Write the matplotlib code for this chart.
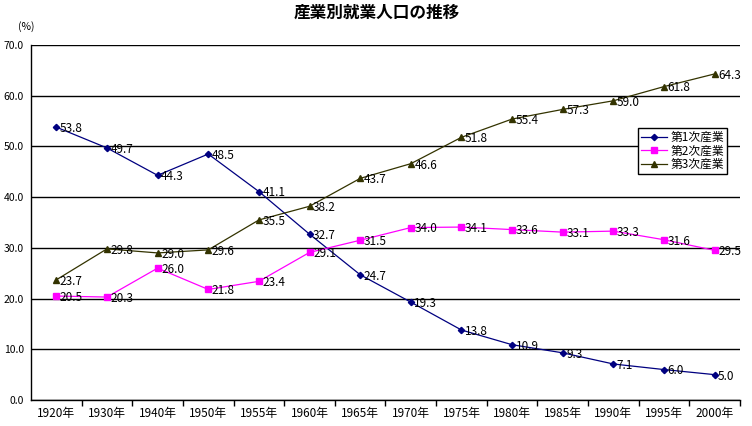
import matplotlib
matplotlib.use("Agg")
import matplotlib.pyplot as plt
from matplotlib.lines import Line2D

plt.rcParams['font.family'] = ['Noto Sans CJK JP', 'DejaVu Sans']

years = ["1920年", "1930年", "1940年", "1950年", "1955年", "1960年", "1965年",
         "1970年", "1975年", "1980年", "1985年", "1990年", "1995年", "2000年"]
primary = [53.8, 49.7, 44.3, 48.5, 41.1, 32.7, 24.7, 19.3, 13.8, 10.9, 9.3, 7.1, 6.0, 5.0]
secondary = [20.5, 20.3, 26.0, 21.8, 23.4, 29.1, 31.5, 34.0, 34.1, 33.6, 33.1, 33.3, 31.6, 29.5]
tertiary = [23.7, 29.8, 29.0, 29.6, 35.5, 38.2, 43.7, 46.6, 51.8, 55.4, 57.3, 59.0, 61.8, 64.3]
series_names = ["第1次産業", "第2次産業", "第3次産業"]
title = "産業別就業人口の推移"
yticks = [0, 10, 20, 30, 40, 50, 60, 70]

W, H = 752, 426
fig = plt.figure(figsize=(W / 100, H / 100), dpi=100)
ax = fig.add_axes([31 / W, (H - 400) / H, 709 / W, 355 / H])

x = list(range(len(years)))
styles = [
    (primary, "#000080", "D", 3.2),
    (secondary, "#FF00FF", "s", 4.3),
    (tertiary, "#333300", "^", 4.6),
]
handles = []
for (vals, col, mk, ms), name in zip(styles, series_names):
    ax.plot(x, vals, color=col, lw=0.9, marker=mk, ms=ms, mec=col, mfc=col, zorder=3)
    for xi, v in zip(x, vals):
        ax.annotate(f"{v:.1f}", (xi, v), xytext=(2.5, -1), textcoords="offset points",
                    ha="left", va="center", fontsize=8.5, color="black", zorder=4)
    handles.append(Line2D([], [], color=col, lw=0.9, marker=mk, ms=ms, mec=col, mfc=col))

ax.set_xlim(-0.5, len(years) - 0.5)
ax.set_ylim(0, 70)
ax.set_yticks(yticks)
ax.set_yticklabels([f"{t:.1f}" for t in yticks], fontsize=7.5)
ax.tick_params(axis="y", length=0, pad=5)
ax.yaxis.grid(True, color="black", lw=1)
ax.set_axisbelow(True)

ax.set_xticks([i + 0.5 for i in range(len(years))])
ax.set_xticklabels([])
ax.set_xticks(x, minor=True)
ax.set_xticklabels(years, minor=True, fontsize=8.5)
ax.tick_params(axis="x", which="major", length=4, width=1, direction="out", color="black")
ax.tick_params(axis="x", which="minor", length=0, pad=5)

for s in ["top", "right"]:
    ax.spines[s].set_visible(False)
for s in ["left", "bottom"]:
    ax.spines[s].set_color("black")
    ax.spines[s].set_linewidth(1)

leg = ax.legend(handles, series_names, loc="upper left",
                bbox_to_anchor=(638 / W, 1 - 128 / H), bbox_transform=fig.transFigure,
                fontsize=8.5, frameon=True, fancybox=False, borderaxespad=0,
                handlelength=2.2, handletextpad=0.3, borderpad=0.25, labelspacing=0.05,
                framealpha=1)
leg.get_frame().set_edgecolor("black")
leg.get_frame().set_linewidth(1)

fig.text(377 / W, 1 - 13 / H, title, ha="center", va="center", fontsize=12, fontweight="bold")
fig.text(26 / W, 1 - 27 / H, "(%)", ha="center", va="center", fontsize=7.5)

fig.savefig("out.png", dpi=100)
